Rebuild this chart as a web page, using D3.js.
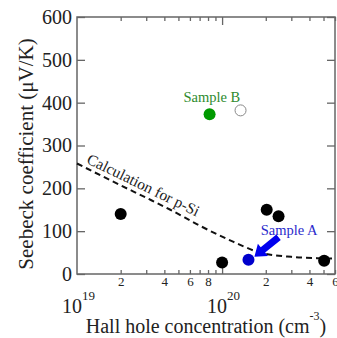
<!DOCTYPE html>
<html>
<head>
<meta charset="utf-8">
<script src="https://cdn.jsdelivr.net/npm/d3@7"></script>
<style>
  body { margin: 0; background: #fff; }
</style>
</head>
<body>
<div id="chart"></div>
<script>
// measured points (hole conc in cm^-3, Seebeck in uV/K)
const blackConc = [2e19, 1e20, 2.03e20, 2.45e20, 5.05e20];
const blackS = [140, 27, 150, 135, 31];
const sampleA = [1.52e20, 33];
const sampleB = [8.2e19, 373];
const openPt = [1.34e20, 382];

// calculation curve for p-Si
const calcConc = [1e19, 1.5e19, 2e19, 3e19, 4.4e19, 7e19, 1.2e20, 1.75e20, 3e20, 4.5e20, 6e20];
const calcS = [258, 228, 207, 178, 150, 113, 75, 52, 40, 37, 36];

const yTicks = [0, 100, 200, 300, 400, 500, 600];
const minorX = [2e19, 3e19, 4e19, 5e19, 6e19, 7e19, 8e19, 9e19, 2e20, 3e20, 4e20, 5e20, 6e20];
const labelledX = [2e19, 4e19, 6e19, 8e19, 2e20, 4e20, 6e20];

const width = 337, height = 338;
const margin = { left: 77, top: 17, right: 2, bottom: 64 };
const serif = "'Liberation Serif', 'Times New Roman', serif";

const x = d3.scaleLog().domain([1e19, 6e20]).range([margin.left, width - margin.right]);
const y = d3.scaleLinear().domain([0, 600]).range([height - margin.bottom, margin.top]);

const svg = d3.select('#chart').append('svg')
    .attr('width', width)
    .attr('height', height)
    .style('font-family', serif);

const axisColor = '#666';

// frame
svg.append('rect')
    .attr('x', x.range()[0]).attr('y', y.range()[1])
    .attr('width', x.range()[1] - x.range()[0])
    .attr('height', y.range()[0] - y.range()[1])
    .attr('fill', 'none').attr('stroke', axisColor).attr('stroke-width', 1.5);

function styleAxis(g) {
    g.attr('font-family', null).style('font-family', serif);
    g.select('.domain').remove();
    g.selectAll('line').attr('stroke', axisColor).attr('stroke-width', 1.3);
    g.selectAll('text').attr('fill', '#222');
}

// bottom minor ticks + labels
svg.append('g')
    .attr('transform', `translate(0,${y(0)})`)
    .call(d3.axisBottom(x).tickValues(minorX).tickSize(-4).tickPadding(3)
        .tickFormat(d => labelledX.includes(d) ? String(Math.round(d / Math.pow(10, Math.floor(Math.log10(d) + 1e-9)))) : ''))
    .call(styleAxis)
    .call(g => g.selectAll('text').attr('font-size', 13));

// bottom major tick
svg.append('g')
    .attr('transform', `translate(0,${y(0)})`)
    .call(d3.axisBottom(x).tickValues([1e20]).tickSize(-8).tickFormat(''))
    .call(styleAxis);

// top ticks
svg.append('g')
    .attr('transform', `translate(0,${y(600)})`)
    .call(d3.axisTop(x).tickValues(minorX).tickSize(-4).tickFormat(''))
    .call(styleAxis);
svg.append('g')
    .attr('transform', `translate(0,${y(600)})`)
    .call(d3.axisTop(x).tickValues([1e20]).tickSize(-8).tickFormat(''))
    .call(styleAxis);

// left axis
svg.append('g')
    .attr('transform', `translate(${x(1e19)},0)`)
    .call(d3.axisLeft(y).tickValues(yTicks).tickSize(-8).tickPadding(5))
    .call(styleAxis)
    .call(g => g.selectAll('text').attr('font-size', 20));

// right axis
svg.append('g')
    .attr('transform', `translate(${x(6e20)},0)`)
    .call(d3.axisRight(y).tickValues(yTicks).tickSize(-8).tickFormat(''))
    .call(styleAxis);

// decade labels
[[1e19, '19'], [1e20, '20']].forEach(([d, e]) => {
    const t = svg.append('text')
        .attr('x', x(d) - 15).attr('y', 313)
        .attr('font-size', 20).attr('fill', '#222');
    t.append('tspan').text('10');
    t.append('tspan').attr('dy', -13).attr('font-size', 13).text(e);
});

// axis titles
const xt = svg.append('text')
    .attr('x', 206).attr('y', 333)
    .attr('text-anchor', 'middle')
    .attr('font-size', 20).attr('fill', '#222');
xt.append('tspan').text('Hall hole concentration (cm');
xt.append('tspan').attr('dy', -13).attr('font-size', 12).text('-3');
xt.append('tspan').attr('dy', 13).text(')');

svg.append('text')
    .attr('transform', 'translate(33,154) rotate(-90)')
    .attr('text-anchor', 'middle')
    .attr('font-size', 21).attr('fill', '#222')
    .text('Seebeck coefficient (\u03bcV/K)');

// calculation curve
const calc = calcConc.map((c, i) => [c, calcS[i]]);
const line = d3.line().x(d => x(d[0])).y(d => y(d[1])).curve(d3.curveMonotoneX);
svg.append('path')
    .datum(calc)
    .attr('d', line)
    .attr('fill', 'none')
    .attr('stroke', '#111')
    .attr('stroke-width', 2)
    .attr('stroke-dasharray', '6,4');

svg.append('text')
    .attr('transform', `translate(${x(1.15e19)},${y(260)}) rotate(26)`)
    .attr('font-size', 15.5).attr('fill', '#222')
    .text('Calculation for p-Si');

// points
const r = 6;
svg.append('g')
    .selectAll('circle')
    .data(blackConc.map((c, i) => [c, blackS[i]]))
    .enter()
    .append('circle')
    .attr('cx', d => x(d[0]))
    .attr('cy', d => y(d[1]))
    .attr('r', r)
    .attr('fill', '#000');

svg.append('circle')
    .attr('cx', x(openPt[0])).attr('cy', y(openPt[1])).attr('r', r - 0.5)
    .attr('fill', '#fff').attr('stroke', '#888').attr('stroke-width', 1);

svg.append('circle')
    .attr('cx', x(sampleB[0])).attr('cy', y(sampleB[1])).attr('r', r)
    .attr('fill', '#009a00');

svg.append('circle')
    .attr('cx', x(sampleA[0])).attr('cy', y(sampleA[1])).attr('r', r)
    .attr('fill', '#0000cc');

// labels
svg.append('text')
    .attr('x', x(8.5e19)).attr('y', y(402))
    .attr('text-anchor', 'middle')
    .attr('font-size', 14.5).attr('fill', '#2e8b2e')
    .text('Sample B');

svg.append('text')
    .attr('x', x(2.9e20)).attr('y', y(91))
    .attr('text-anchor', 'middle')
    .attr('font-size', 14.5).attr('fill', '#2a2acc')
    .text('Sample A');

// arrow pointing to sample A
const tail = [x(2.45e20), y(86)];
const tip = [x(1.67e20), y(40)];
const ang = Math.atan2(tip[1] - tail[1], tip[0] - tail[0]);
const len = Math.hypot(tip[0] - tail[0], tip[1] - tail[1]);
const sw = 3.5, hw = 8, hl = 11;
const arrowPts = [
    [0, -sw], [len - hl, -sw], [len - hl, -hw], [len, 0], [len - hl, hw], [len - hl, sw], [0, sw]
];
svg.append('polygon')
    .attr('points', arrowPts.map(p => p.join(',')).join(' '))
    .attr('transform', `translate(${tail[0]},${tail[1]}) rotate(${ang * 180 / Math.PI})`)
    .attr('fill', '#0000ee');
</script>
</body>
</html>
